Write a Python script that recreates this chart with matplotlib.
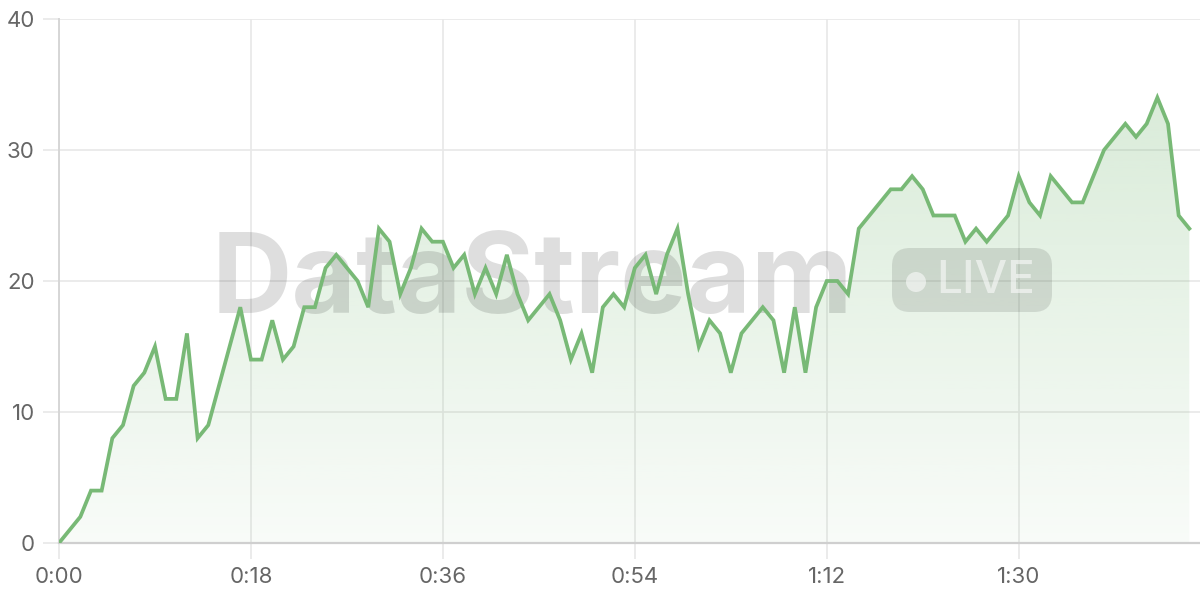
import matplotlib.pyplot as plt
import numpy as np
from matplotlib.patches import FancyBboxPatch, Circle
from matplotlib.transforms import IdentityTransform

# one value per second, 0:00 .. 1:46
values = [0, 1, 2, 4, 4, 8, 9, 12, 13, 15,
          11, 11, 16, 8, 9, 12, 15, 18, 14, 14,
          17, 14, 15, 18, 18, 21, 22, 21, 20, 18,
          24, 23, 19, 21, 24, 23, 23, 21, 22, 19,
          21, 19, 22, 19, 17, 18, 19, 17, 14, 16,
          13, 18, 19, 18, 21, 22, 19, 22, 24, 19,
          15, 17, 16, 13, 16, 17, 18, 17, 13, 18,
          13, 18, 20, 20, 19, 24, 25, 26, 27, 27,
          28, 27, 25, 25, 25, 23, 24, 23, 24, 25,
          28, 26, 25, 28, 27, 26, 26, 28, 30, 31,
          32, 31, 32, 34, 32, 25, 24]
seconds = list(range(len(values)))

tick_seconds = [0, 18, 36, 54, 72, 90]
tick_labels = ['0:00', '0:18', '0:36', '0:54', '1:12', '1:30']
y_ticks = [0, 10, 20, 30, 40]

line_color = '#78b976'
text_color = '#666666'
grid_color = '#e8e8e8'

plt.rcParams['font.family'] = ['Inter', 'DejaVu Sans']

fig = plt.figure(figsize=(12, 6), dpi=100)
ax = fig.add_axes([59 / 1200, 57 / 600, 1141 / 1200, 524 / 600])

x = np.array(seconds)
y = np.array(values)

# gradient fill under the line, clipped to the area polygon
poly = ax.fill_between(x, y, 0, color='none', lw=0)
grad = np.linspace(0.05, 0.28, 256).reshape(-1, 1)
rgba = np.zeros((256, 1, 4))
rgba[:, :, 0] = 0x7a / 255
rgba[:, :, 1] = 0xba / 255
rgba[:, :, 2] = 0x78 / 255
rgba[:, :, 3] = grad
img = ax.imshow(rgba, extent=[0, max(seconds), 0, max(values)], origin='lower',
                aspect='auto', zorder=1)
img.set_clip_path(poly.get_paths()[0], transform=ax.transData)

ax.plot(x, y, color=line_color, lw=2.7, zorder=4, solid_joinstyle='miter')

# watermark (kept in the axes so the line stays on top)
ax.text(532 / 1200, (600 - 313) / 600, 'DataStream', transform=fig.transFigure,
        fontsize=80, fontweight='bold', color='black', alpha=0.13,
        ha='center', va='baseline', zorder=3)
badge = FancyBboxPatch((892, 600 - 312), 160, 64,
                       boxstyle='round,pad=0,rounding_size=18',
                       transform=IdentityTransform(), facecolor='black',
                       alpha=0.11, edgecolor='none', zorder=3, clip_on=False)
ax.add_artist(badge)
ax.add_artist(Circle((916, 600 - 282), 10, transform=IdentityTransform(),
                     facecolor='white', alpha=0.55, zorder=3, clip_on=False))
ax.text(986 / 1200, (600 - 281) / 600, 'LIVE', transform=fig.transFigure,
        fontsize=33, fontweight='medium', color='white', alpha=0.55,
        ha='center', va='center', zorder=3)

ax.set_xlim(0, 107)
ax.set_ylim(0, 40)
ax.set_xticks(tick_seconds)
ax.set_xticklabels(tick_labels)
ax.set_yticks(y_ticks)
ax.grid(True, color=grid_color, lw=1.2, zorder=0)
ax.set_axisbelow(True)
ax.tick_params(axis='both', length=11.5, width=1.2, color=grid_color,
               labelcolor=text_color, labelsize=16, pad=6)

for side in ['top', 'right']:
    ax.spines[side].set_visible(False)
ax.spines['left'].set_color('#d6d6d6')
ax.spines['left'].set_linewidth(1.4)
ax.spines['bottom'].set_color('#cfcfcf')
ax.spines['bottom'].set_linewidth(1.6)

fig.savefig('out.png', dpi=100)
